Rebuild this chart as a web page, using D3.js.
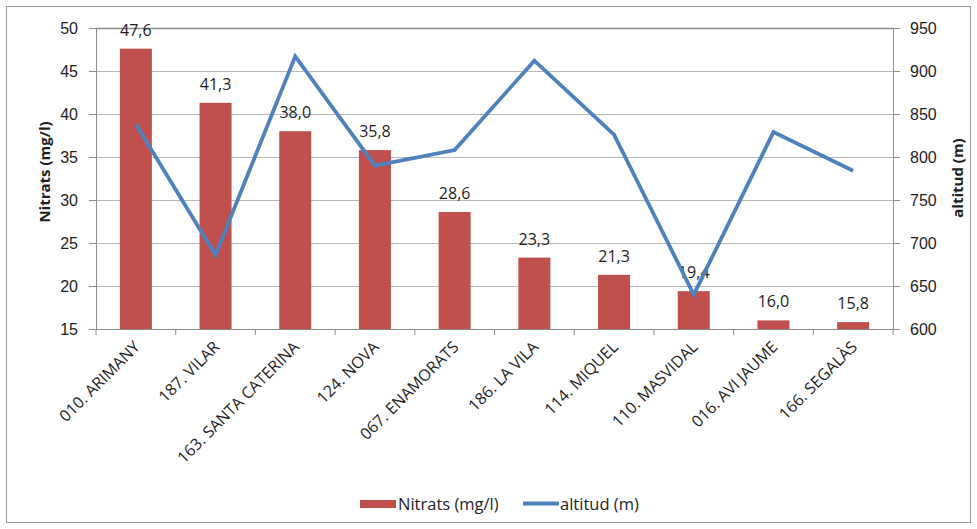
<!DOCTYPE html>
<html>
<head>
<meta charset="utf-8">
<script src="https://cdn.jsdelivr.net/npm/d3@7"></script>
<style>
  html, body { margin: 0; padding: 0; background: #fff; }
  svg { display: block; font-family: "Open Sans", "Noto Sans", sans-serif; }
</style>
</head>
<body>
<svg id="chart" width="977" height="529"></svg>
<script>
// Sampling points, nitrate concentration and altitude
const categories = ["010. ARIMANY", "187. VILAR", "163. SANTA CATERINA", "124. NOVA", "067. ENAMORATS",
                    "186. LA VILA", "114. MIQUEL", "110. MASVIDAL", "016. AVI JAUME", "166. SEGALÀS"];
const nitrats = [47.6, 41.3, 38.0, 35.8, 28.6, 23.3, 21.3, 19.4, 16.0, 15.8];
const altitud = [838, 686, 917, 790, 808, 912, 826, 640, 829, 784];
const leftTicks = [15, 20, 25, 30, 35, 40, 45, 50];
const rightTicks = [600, 650, 700, 750, 800, 850, 900, 950];
const seriesNames = ["Nitrats (mg/l)", "altitud (m)"];

const svg = d3.select("#chart");
const W = 977, H = 529;
const m = { left: 96, right: 893, top: 28, bottom: 329 };
const barColor = "#C0504D", lineColor = "#4F81BD";
const textColor = "#1e1e1e";

// Outer frame
svg.append("rect").attr("x", 6.5).attr("y", 6.5).attr("width", W - 13).attr("height", H - 13)
  .attr("fill", "none").attr("stroke", "#9a9a9a").attr("stroke-width", 1);

const xBand = d3.scaleBand().domain(categories).range([m.left, m.right]);
const yL = d3.scaleLinear().domain([15, 50]).range([m.bottom, m.top]);
const yR = d3.scaleLinear().domain([600, 950]).range([m.bottom, m.top]);
const cx = d => xBand(d) + xBand.bandwidth() / 2;

// Horizontal gridlines
svg.append("g").selectAll("line").data(leftTicks.filter(t => t > 15)).join("line")
  .attr("x1", m.left).attr("x2", m.right)
  .attr("y1", d => Math.round(yL(d)) + 0.5).attr("y2", d => Math.round(yL(d)) + 0.5)
  .attr("stroke", d => d === 50 ? "#8c8c8c" : "#b8b8b8").attr("stroke-width", d => d === 50 ? 1.5 : 1);

// Left axis
const axL = svg.append("g").attr("transform", `translate(${m.left},0)`)
  .call(d3.axisLeft(yL).tickValues(leftTicks).tickSize(7).tickPadding(11).tickFormat(d3.format("d")));
axL.selectAll("text").attr("font-size", 16).attr("fill", textColor);

// Right axis
const axR = svg.append("g").attr("transform", `translate(${m.right},0)`)
  .call(d3.axisRight(yR).tickValues(rightTicks).tickSize(7).tickPadding(10).tickFormat(d3.format("d")));
axR.selectAll("text").attr("font-size", 16).attr("fill", textColor);

// Bottom axis with ticks on category boundaries
const axB = svg.append("g").attr("transform", `translate(0,${m.bottom})`);
axB.append("line").attr("x1", m.left).attr("x2", m.right).attr("y1", 0.5).attr("y2", 0.5).attr("stroke", "#8c8c8c");
axB.selectAll("line.tk").data(d3.range(categories.length + 1)).join("line").attr("class", "tk")
  .attr("x1", i => m.left + i * xBand.step()).attr("x2", i => m.left + i * xBand.step())
  .attr("y1", 0).attr("y2", 6).attr("stroke", "#8c8c8c");

[axL, axR].forEach(a => {
  a.select(".domain").attr("stroke", "#8c8c8c");
  a.selectAll(".tick line").attr("stroke", "#8c8c8c");
});

// Category labels, rotated
axB.selectAll("text.cat").data(categories).join("text").attr("class", "cat")
  .attr("transform", d => `translate(${cx(d) + 5},${19}) rotate(-45)`)
  .attr("text-anchor", "end").attr("font-size", 16).attr("fill", textColor)
  .text(d => d);

// Bars
svg.append("g").selectAll("rect").data(categories).join("rect")
  .attr("x", d => cx(d) - 16)
  .attr("width", 32)
  .attr("y", (d, i) => yL(nitrats[i]))
  .attr("height", (d, i) => m.bottom - yL(nitrats[i]))
  .attr("fill", barColor);

// Bar value labels
svg.append("g").selectAll("text").data(categories).join("text")
  .attr("x", d => cx(d))
  .attr("y", (d, i) => yL(nitrats[i]) - 13)
  .attr("text-anchor", "middle").attr("font-size", 16).attr("fill", textColor)
  .text((d, i) => d3.format(".1f")(nitrats[i]).replace(".", ","));

// Altitude line
const line = d3.line().x((d, i) => cx(categories[i])).y(d => yR(d));
svg.append("path").datum(altitud).attr("d", line)
  .attr("fill", "none").attr("stroke", lineColor).attr("stroke-width", 3.8).attr("stroke-linejoin", "miter");

// Axis titles
svg.append("text").attr("transform", `translate(50,172) rotate(-90)`)
  .attr("text-anchor", "middle").attr("font-size", 15).attr("font-weight", "bold").attr("fill", textColor)
  .text(seriesNames[0]);
svg.append("text").attr("transform", `translate(963,178) rotate(-90)`)
  .attr("text-anchor", "middle").attr("font-size", 15).attr("font-weight", "bold").attr("fill", textColor)
  .text(seriesNames[1]);

// Legend
const lg = svg.append("g");
lg.append("rect").attr("x", 360).attr("y", 500).attr("width", 36).attr("height", 8).attr("fill", barColor);
lg.append("text").attr("x", 398).attr("y", 510).attr("font-size", 16.5).attr("fill", textColor).text(seriesNames[0]);
lg.append("line").attr("x1", 523).attr("x2", 559).attr("y1", 503.5).attr("y2", 503.5)
  .attr("stroke", lineColor).attr("stroke-width", 3.8);
lg.append("text").attr("x", 560).attr("y", 510).attr("font-size", 16.5).attr("fill", textColor).text(seriesNames[1]);
</script>
</body>
</html>
